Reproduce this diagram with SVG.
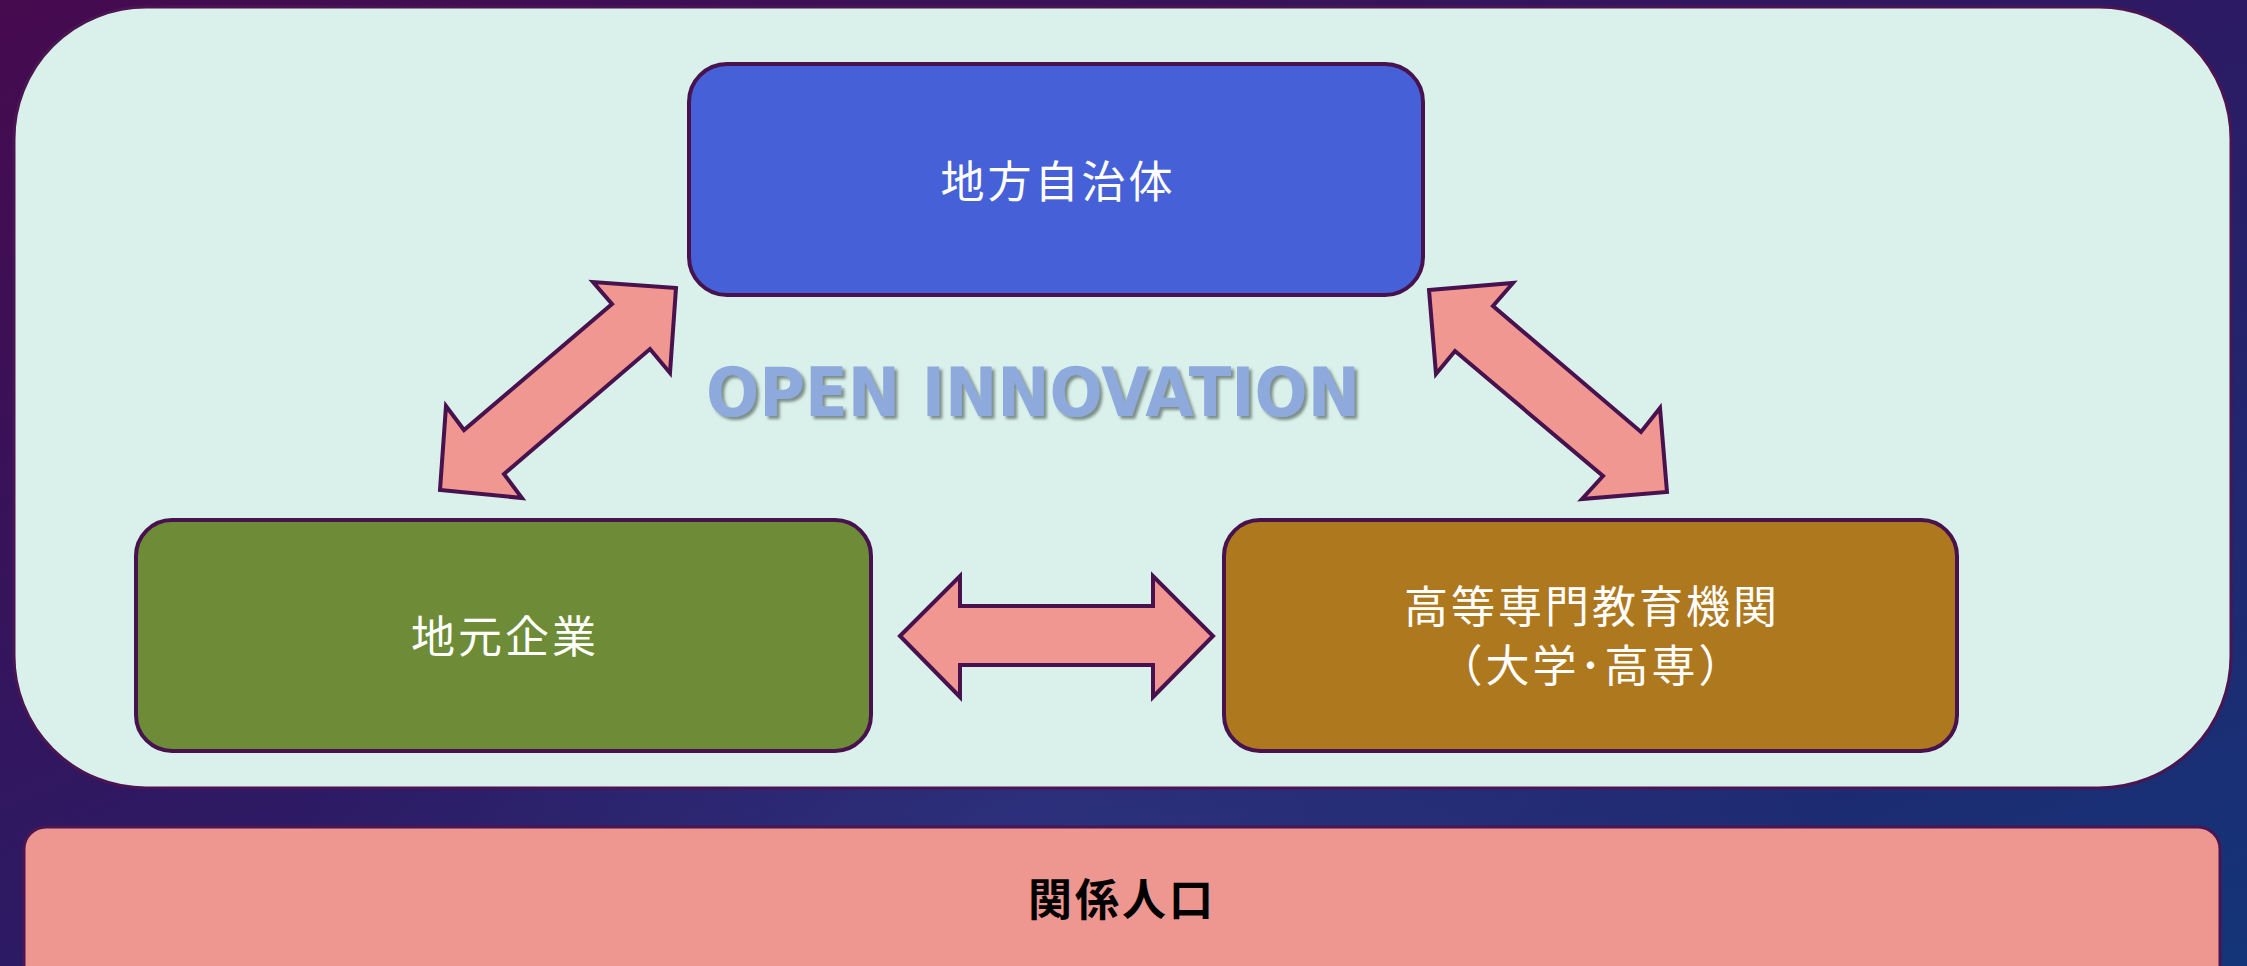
<svg xmlns="http://www.w3.org/2000/svg" width="2247" height="966" viewBox="0 0 2247 966">
  <defs>
    <linearGradient id="bg" x1="0" y1="0" x2="1" y2="1">
      <stop offset="0" stop-color="#460a4e"/>
      <stop offset="0.5" stop-color="#2c1a64"/>
      <stop offset="1" stop-color="#143579"/>
    </linearGradient>
    <radialGradient id="glow" cx="0.47" cy="0.86" r="0.35">
      <stop offset="0" stop-color="#3a4a9a" stop-opacity="0.35"/>
      <stop offset="1" stop-color="#3a4a9a" stop-opacity="0"/>
    </radialGradient>
    <filter id="shadow" x="-5%" y="-20%" width="110%" height="150%">
      <feDropShadow dx="3" dy="3" stdDeviation="1.5" flood-color="#55655f" flood-opacity="0.7"/>
    </filter>
    <style>
      .box { stroke: #48124f; stroke-width: 4; }
      .arrow { fill: #ef9790; stroke: #48124f; stroke-width: 4; stroke-linejoin: miter; }
      .label { font-family: "Noto Sans CJK JP", "Noto Sans", sans-serif; font-size: 44px; fill: #ffffff; text-anchor: middle; letter-spacing: 3px; }
      .title { font-family: "DejaVu Sans", "Liberation Sans", sans-serif; font-weight: bold; font-size: 68px; fill: #8eaadc; }
      .bottom { font-family: "Noto Sans CJK JP", "Noto Sans", sans-serif; font-weight: bold; font-size: 44px; fill: #000000; text-anchor: middle; letter-spacing: 3px; }
    </style>
  </defs>

  <rect x="0" y="0" width="2247" height="966" fill="url(#bg)"/>
  <rect x="0" y="0" width="2247" height="966" fill="url(#glow)"/>

  <g id="panel">
    <rect x="14" y="7" width="2217" height="781" rx="132" ry="132" fill="#daf1eb" stroke="#4a1552" stroke-width="3"/>
  </g>

  <g id="open-innovation">
    <text class="title" x="706" y="416" textLength="654" lengthAdjust="spacingAndGlyphs" filter="url(#shadow)">OPEN INNOVATION</text>
  </g>

  <g id="connectors">
    <polygon class="arrow" points="676,288 593,282 612,304 464,430 446,406 440,490 522,498 504,474 650,349 670,373"/>
    <polygon class="arrow" points="1429,290 1513,283 1493,306 1641,432 1660,408 1667,492 1582,499 1603,476 1455,351 1436,374"/>
    <polygon class="arrow" points="900,636 960,576 960,606 1153,606 1153,576 1213,636 1153,697 1153,665 960,665 960,697"/>
  </g>

  <g id="node-jichitai">
    <rect class="box" x="689" y="64" width="734" height="231" rx="38" ry="38" fill="#4661d7"/>
    <text class="label" x="1058" y="198">地方自治体</text>
  </g>

  <g id="node-kigyou">
    <rect class="box" x="136" y="520" width="735" height="231" rx="36" ry="36" fill="#6e8c37"/>
    <text class="label" x="505" y="653">地元企業</text>
  </g>

  <g id="node-kyouiku">
    <rect class="box" x="1224" y="520" width="733" height="231" rx="36" ry="36" fill="#ae781f"/>
    <text class="label" x="1592" y="623">高等専門教育機関</text>
    <text class="label" x="1592" y="682">（大学･高専）</text>
  </g>

  <g id="node-kankei">
    <rect x="24" y="827" width="2196" height="170" rx="22" ry="22" fill="#ee9690" stroke="#4a1552" stroke-width="3"/>
    <text class="bottom" x="1122" y="916">関係人口</text>
  </g>
</svg>
